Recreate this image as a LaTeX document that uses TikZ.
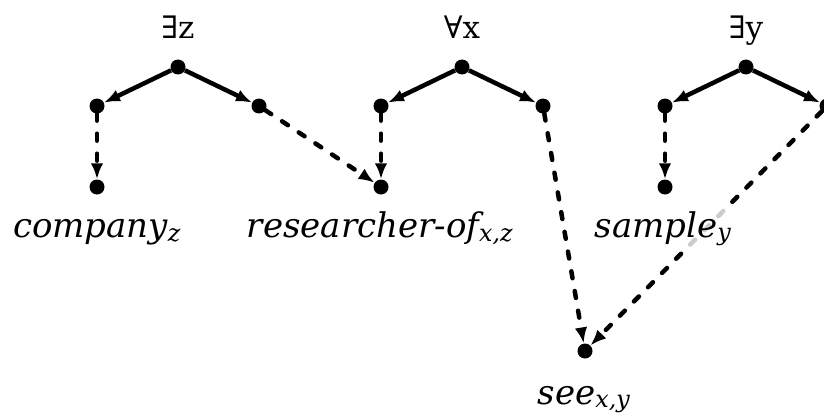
\documentclass[tikz,border=0pt]{standalone}
\usepackage{fontspec}
\setmainfont{DejaVu Serif}
\usetikzlibrary{arrows.meta}
\begin{document}
\begin{tikzpicture}[x=1pt,y=-1pt,
  dot/.style={circle,fill=black,inner sep=0pt,minimum size=15pt},
  solidarrow/.style={-{Latex[length=16pt,width=12.5pt]},line width=4.5pt},
  dasharrow/.style={-{Latex[length=16pt,width=12.5pt]},line width=4.5pt,dash pattern=on 7pt off 13pt,line cap=round},
  quant/.style={anchor=base,inner sep=0pt,font=\fontsize{31}{36}\selectfont},
  lbl/.style={anchor=base,inner sep=3pt,fill=white,fill opacity=0.8,text opacity=1,font=\fontsize{34}{40}\selectfont\itshape}]
\useasboundingbox (0,0) rectangle (824,412);
% group 1
\node[dot] (t1) at (178,67) {};
\node[dot] (l1) at (97,106) {};
\node[dot] (r1) at (259,106) {};
\node[dot] (c1) at (97,187) {};
% group 2
\node[dot] (t2) at (462,67) {};
\node[dot] (l2) at (381,106) {};
\node[dot] (r2) at (543,106) {};
\node[dot] (c2) at (381,187) {};
% group 3
\node[dot] (t3) at (746,67) {};
\node[dot] (l3) at (665,106) {};
\node[dot] (r3) at (827,106) {};
\node[dot] (c3) at (665,187) {};
% see
\node[dot] (s) at (585,351) {};
% quantifiers
\node[quant] (q1) at (178,38) {∃z};
\node[quant] (q2) at (462,38) {∀x};
\node[quant] (q3) at (746,38) {∃y};
% edges
\draw[solidarrow] (t1) -- (l1);
\draw[solidarrow] (t1) -- (r1);
\draw[solidarrow] (t2) -- (l2);
\draw[solidarrow] (t2) -- (r2);
\draw[solidarrow] (t3) -- (l3);
\draw[solidarrow] (t3) -- (r3);
\draw[dasharrow] (l1) -- (c1);
\draw[dasharrow] (r1) -- (c2);
\draw[dasharrow] (l2) -- (c2);
\draw[dasharrow] (r2) -- (s);
\draw[dasharrow] (l3) -- (c3);
\draw[dasharrow] (r3) -- (s);
% labels
\node[lbl] (n1) at (97,237) {company\textsubscript{z}};
\node[lbl] (n2) at (380,237) {researcher-of\textsubscript{x,z}};
\node[lbl] (n3) at (663,237) {sample\textsubscript{y}};
\node[lbl] (n4) at (584,404) {see\textsubscript{x,y}};
\end{tikzpicture}
\end{document}
